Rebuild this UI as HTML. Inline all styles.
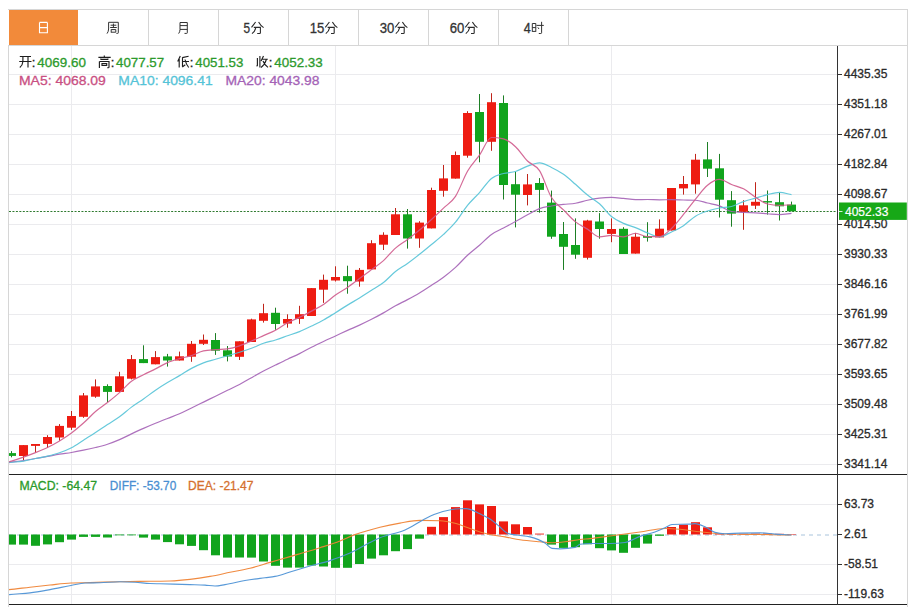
<!DOCTYPE html><html><head><meta charset="utf-8"><style>html,body{margin:0;padding:0;background:#fff;width:911px;height:607px;overflow:hidden}svg{position:absolute;left:0;top:0;display:block}text{font-family:"Liberation Sans",sans-serif}</style></head><body>
<svg width="911" height="607" viewBox="0 0 911 607">
<defs><clipPath id="cp"><rect x="9" y="46" width="828" height="428"/></clipPath><clipPath id="cm"><rect x="9" y="475" width="828" height="129"/></clipPath></defs>
<rect x="9" y="9" width="69" height="36" fill="#f28a3a"/>
<path d="M8,9.5H908M8,45.5H908" stroke="#d6d6d6" stroke-width="1" fill="none"/>
<path d="M148.5,10V45M218.5,10V45M288.5,10V45M358.5,10V45M428.5,10V45M498.5,10V45M568.5,10V45" stroke="#d6d6d6" stroke-width="1" fill="none"/>
<path d="M8.5,45V607M907.5,9V607" stroke="#d6d6d6" stroke-width="1" fill="none"/>
<path d="M9,74.5H837M9,104.5H837M9,134.5H837M9,164.5H837M9,194.5H837M9,224.5H837M9,254.5H837M9,284.5H837M9,314.5H837M9,344.5H837M9,374.5H837M9,404.5H837M9,434.5H837M9,464.5H837M9,504.5H837M9,564.5H837M9,594.5H837M71.5,46V604M335.5,46V604M611.5,46V604" stroke="#ebebee" stroke-width="1" fill="none"/>
<path d="M9,535H837" stroke="#a9c4dc" stroke-width="1" stroke-dasharray="4,4" fill="none"/>
<path d="M9,211.5H837" stroke="#2f7a2f" stroke-width="1" stroke-dasharray="2,1.45" fill="none"/>
<g clip-path="url(#cp)"><path d="M11.5,451.1V457.3" stroke="#1d7f25" stroke-width="1"/><rect x="7.0" y="453.1" width="9" height="2.8" fill="#11a41d"/><path d="M23.5,445.1V460.2" stroke="#c0241a" stroke-width="1"/><rect x="19.0" y="445.1" width="9" height="10.9" fill="#ee1c12"/><path d="M35.5,444.0V452.6" stroke="#c0241a" stroke-width="1"/><rect x="31.0" y="444.0" width="9" height="1.9" fill="#ee1c12"/><path d="M47.5,435.2V448.0" stroke="#c0241a" stroke-width="1"/><rect x="43.0" y="437.0" width="9" height="6.9" fill="#ee1c12"/><path d="M59.5,424.1V440.7" stroke="#c0241a" stroke-width="1"/><rect x="55.0" y="425.9" width="9" height="11.6" fill="#ee1c12"/><path d="M71.5,411.0V429.9" stroke="#c0241a" stroke-width="1"/><rect x="67.0" y="416.0" width="9" height="11.7" fill="#ee1c12"/><path d="M83.5,393.0V417.8" stroke="#c0241a" stroke-width="1"/><rect x="79.0" y="395.4" width="9" height="21.4" fill="#ee1c12"/><path d="M95.5,379.4V397.8" stroke="#c0241a" stroke-width="1"/><rect x="91.0" y="386.4" width="9" height="10.3" fill="#ee1c12"/><path d="M107.5,384.3V402.0" stroke="#1d7f25" stroke-width="1"/><rect x="103.0" y="386.0" width="9" height="5.9" fill="#11a41d"/><path d="M119.5,371.8V391.9" stroke="#c0241a" stroke-width="1"/><rect x="115.0" y="376.3" width="9" height="15.6" fill="#ee1c12"/><path d="M131.5,355.0V379.4" stroke="#c0241a" stroke-width="1"/><rect x="127.0" y="359.1" width="9" height="19.6" fill="#ee1c12"/><path d="M143.5,345.3V363.1" stroke="#1d7f25" stroke-width="1"/><rect x="139.0" y="359.1" width="9" height="4.0" fill="#11a41d"/><path d="M155.5,351.1V364.3" stroke="#c0241a" stroke-width="1"/><rect x="151.0" y="357.1" width="9" height="7.2" fill="#ee1c12"/><path d="M167.5,353.9V366.6" stroke="#1d7f25" stroke-width="1"/><rect x="163.0" y="356.4" width="9" height="4.1" fill="#11a41d"/><path d="M179.5,351.6V360.5" stroke="#c0241a" stroke-width="1"/><rect x="175.0" y="356.3" width="9" height="4.2" fill="#ee1c12"/><path d="M191.5,341.0V361.8" stroke="#c0241a" stroke-width="1"/><rect x="187.0" y="343.8" width="9" height="12.9" fill="#ee1c12"/><path d="M203.5,334.5V345.0" stroke="#c0241a" stroke-width="1"/><rect x="199.0" y="339.8" width="9" height="4.0" fill="#ee1c12"/><path d="M215.5,333.1V354.9" stroke="#1d7f25" stroke-width="1"/><rect x="211.0" y="340.0" width="9" height="10.7" fill="#11a41d"/><path d="M227.5,346.0V361.4" stroke="#1d7f25" stroke-width="1"/><rect x="223.0" y="350.3" width="9" height="6.2" fill="#11a41d"/><path d="M239.5,341.3V360.0" stroke="#c0241a" stroke-width="1"/><rect x="235.0" y="341.3" width="9" height="15.5" fill="#ee1c12"/><path d="M251.5,318.7V342.0" stroke="#c0241a" stroke-width="1"/><rect x="247.0" y="319.4" width="9" height="22.6" fill="#ee1c12"/><path d="M263.5,303.8V322.6" stroke="#c0241a" stroke-width="1"/><rect x="259.0" y="313.2" width="9" height="7.6" fill="#ee1c12"/><path d="M275.5,307.7V329.8" stroke="#1d7f25" stroke-width="1"/><rect x="271.0" y="312.8" width="9" height="11.2" fill="#11a41d"/><path d="M287.5,314.3V327.7" stroke="#c0241a" stroke-width="1"/><rect x="283.0" y="319.0" width="9" height="4.6" fill="#ee1c12"/><path d="M299.5,305.8V323.9" stroke="#c0241a" stroke-width="1"/><rect x="295.0" y="314.2" width="9" height="4.7" fill="#ee1c12"/><path d="M311.5,288.1V316.0" stroke="#c0241a" stroke-width="1"/><rect x="307.0" y="288.1" width="9" height="27.9" fill="#ee1c12"/><path d="M323.5,274.6V302.9" stroke="#c0241a" stroke-width="1"/><rect x="319.0" y="279.8" width="9" height="9.9" fill="#ee1c12"/><path d="M335.5,266.3V281.5" stroke="#c0241a" stroke-width="1"/><rect x="331.0" y="277.0" width="9" height="3.5" fill="#ee1c12"/><path d="M347.5,265.7V293.7" stroke="#1d7f25" stroke-width="1"/><rect x="343.0" y="276.1" width="9" height="5.1" fill="#11a41d"/><path d="M359.5,268.0V286.7" stroke="#c0241a" stroke-width="1"/><rect x="355.0" y="269.9" width="9" height="11.6" fill="#ee1c12"/><path d="M371.5,240.2V269.4" stroke="#c0241a" stroke-width="1"/><rect x="367.0" y="243.2" width="9" height="26.2" fill="#ee1c12"/><path d="M383.5,232.3V250.0" stroke="#c0241a" stroke-width="1"/><rect x="379.0" y="234.8" width="9" height="9.9" fill="#ee1c12"/><path d="M395.5,208.0V235.0" stroke="#c0241a" stroke-width="1"/><rect x="391.0" y="214.3" width="9" height="20.7" fill="#ee1c12"/><path d="M407.5,209.0V248.6" stroke="#1d7f25" stroke-width="1"/><rect x="403.0" y="214.3" width="9" height="24.2" fill="#11a41d"/><path d="M419.5,221.2V247.8" stroke="#c0241a" stroke-width="1"/><rect x="415.0" y="222.6" width="9" height="15.9" fill="#ee1c12"/><path d="M431.5,187.7V228.4" stroke="#c0241a" stroke-width="1"/><rect x="427.0" y="190.0" width="9" height="38.4" fill="#ee1c12"/><path d="M443.5,165.0V196.7" stroke="#c0241a" stroke-width="1"/><rect x="439.0" y="178.4" width="9" height="12.4" fill="#ee1c12"/><path d="M455.5,151.5V178.6" stroke="#c0241a" stroke-width="1"/><rect x="451.0" y="155.0" width="9" height="23.6" fill="#ee1c12"/><path d="M467.5,111.2V157.7" stroke="#c0241a" stroke-width="1"/><rect x="463.0" y="113.0" width="9" height="42.7" fill="#ee1c12"/><path d="M479.5,94.0V162.3" stroke="#1d7f25" stroke-width="1"/><rect x="475.0" y="112.0" width="9" height="29.8" fill="#11a41d"/><path d="M491.5,93.2V150.8" stroke="#c0241a" stroke-width="1"/><rect x="487.0" y="102.2" width="9" height="39.6" fill="#ee1c12"/><path d="M503.5,95.4V199.5" stroke="#1d7f25" stroke-width="1"/><rect x="499.0" y="103.0" width="9" height="82.0" fill="#11a41d"/><path d="M515.5,171.7V227.4" stroke="#1d7f25" stroke-width="1"/><rect x="511.0" y="184.2" width="9" height="10.5" fill="#11a41d"/><path d="M527.5,174.0V205.4" stroke="#c0241a" stroke-width="1"/><rect x="523.0" y="184.4" width="9" height="10.6" fill="#ee1c12"/><path d="M539.5,178.1V212.7" stroke="#1d7f25" stroke-width="1"/><rect x="535.0" y="183.0" width="9" height="6.9" fill="#11a41d"/><path d="M551.5,190.6V238.8" stroke="#1d7f25" stroke-width="1"/><rect x="547.0" y="202.6" width="9" height="34.1" fill="#11a41d"/><path d="M563.5,222.0V269.9" stroke="#1d7f25" stroke-width="1"/><rect x="559.0" y="234.0" width="9" height="12.8" fill="#11a41d"/><path d="M575.5,218.4V258.8" stroke="#1d7f25" stroke-width="1"/><rect x="571.0" y="245.0" width="9" height="9.7" fill="#11a41d"/><path d="M587.5,219.8V259.5" stroke="#c0241a" stroke-width="1"/><rect x="583.0" y="220.5" width="9" height="37.3" fill="#ee1c12"/><path d="M599.5,213.1V238.7" stroke="#1d7f25" stroke-width="1"/><rect x="595.0" y="221.5" width="9" height="7.5" fill="#11a41d"/><path d="M611.5,218.4V242.2" stroke="#c0241a" stroke-width="1"/><rect x="607.0" y="229.0" width="9" height="4.9" fill="#ee1c12"/><path d="M623.5,227.2V254.0" stroke="#1d7f25" stroke-width="1"/><rect x="619.0" y="228.8" width="9" height="25.2" fill="#11a41d"/><path d="M635.5,232.9V253.6" stroke="#c0241a" stroke-width="1"/><rect x="631.0" y="236.7" width="9" height="16.9" fill="#ee1c12"/><path d="M647.5,222.2V241.6" stroke="#1d7f25" stroke-width="1"/><rect x="643.0" y="236.0" width="9" height="1.8" fill="#11a41d"/><path d="M659.5,219.4V237.4" stroke="#c0241a" stroke-width="1"/><rect x="655.0" y="228.7" width="9" height="8.7" fill="#ee1c12"/><path d="M671.5,188.0V230.5" stroke="#c0241a" stroke-width="1"/><rect x="667.0" y="188.0" width="9" height="42.5" fill="#ee1c12"/><path d="M683.5,176.0V194.6" stroke="#c0241a" stroke-width="1"/><rect x="679.0" y="184.0" width="9" height="4.4" fill="#ee1c12"/><path d="M695.5,153.9V193.7" stroke="#c0241a" stroke-width="1"/><rect x="691.0" y="159.7" width="9" height="24.7" fill="#ee1c12"/><path d="M707.5,142.0V177.0" stroke="#1d7f25" stroke-width="1"/><rect x="703.0" y="159.4" width="9" height="9.3" fill="#11a41d"/><path d="M719.5,153.9V217.5" stroke="#1d7f25" stroke-width="1"/><rect x="715.0" y="168.3" width="9" height="31.4" fill="#11a41d"/><path d="M731.5,191.1V226.7" stroke="#1d7f25" stroke-width="1"/><rect x="727.0" y="200.2" width="9" height="13.4" fill="#11a41d"/><path d="M743.5,200.2V229.8" stroke="#c0241a" stroke-width="1"/><rect x="739.0" y="205.3" width="9" height="6.5" fill="#ee1c12"/><path d="M755.5,182.2V209.0" stroke="#c0241a" stroke-width="1"/><rect x="751.0" y="201.8" width="9" height="3.9" fill="#ee1c12"/><path d="M767.5,190.5V214.6" stroke="#1d7f25" stroke-width="1"/><rect x="763.0" y="201.1" width="9" height="1.4" fill="#11a41d"/><path d="M779.5,192.8V220.5" stroke="#1d7f25" stroke-width="1"/><rect x="775.0" y="202.2" width="9" height="4.1" fill="#11a41d"/><path d="M791.5,201.6V211.2" stroke="#1d7f25" stroke-width="1"/><rect x="787.0" y="204.6" width="9" height="6.6" fill="#11a41d"/></g>
<g clip-path="url(#cp)"><path d="M-0.50,463.80C3.50,463.27 7.50,462.73 11.50,462.20C15.50,461.67 19.50,461.22 23.50,460.60C27.50,459.98 31.50,459.20 35.50,458.50C39.50,457.80 43.50,457.12 47.50,456.40C51.50,455.68 55.50,454.85 59.50,454.20C63.50,453.55 67.50,453.17 71.50,452.50C75.50,451.83 79.50,451.03 83.50,450.20C87.50,449.37 91.50,448.50 95.50,447.50C99.50,446.50 103.50,445.52 107.50,444.20C111.50,442.88 115.50,441.32 119.50,439.60C123.50,437.88 127.50,435.77 131.50,433.90C135.50,432.03 139.50,430.17 143.50,428.40C147.50,426.63 151.50,424.95 155.50,423.30C159.50,421.65 163.50,420.08 167.50,418.50C171.50,416.92 175.50,415.55 179.50,413.80C183.50,412.05 187.50,409.95 191.50,408.00C195.50,406.05 199.50,404.07 203.50,402.10C207.50,400.13 211.50,398.17 215.50,396.20C219.50,394.23 223.50,392.25 227.50,390.30C231.50,388.35 235.50,386.60 239.50,384.50C243.50,382.40 247.50,379.92 251.50,377.68C255.50,375.44 259.50,373.18 263.50,371.08C267.50,368.99 271.50,367.07 275.50,365.08C279.50,363.10 283.50,361.10 287.50,359.18C291.50,357.27 295.50,355.60 299.50,353.60C303.50,351.60 307.50,349.23 311.50,347.20C315.50,345.18 319.50,343.30 323.50,341.42C327.50,339.55 331.50,337.79 335.50,335.95C339.50,334.12 343.50,332.23 347.50,330.42C351.50,328.61 355.50,326.95 359.50,325.10C363.50,323.25 367.50,321.34 371.50,319.31C375.50,317.27 379.50,315.15 383.50,312.89C387.50,310.63 391.50,307.96 395.50,305.75C399.50,303.54 403.50,301.78 407.50,299.65C411.50,297.52 415.50,295.36 419.50,292.96C423.50,290.57 427.50,287.90 431.50,285.27C435.50,282.65 439.50,280.18 443.50,277.20C447.50,274.23 451.50,271.08 455.50,267.42C459.50,263.76 463.50,258.94 467.50,255.24C471.50,251.55 475.50,248.74 479.50,245.27C483.50,241.80 487.50,237.29 491.50,234.41C495.50,231.53 499.50,230.15 503.50,228.00C507.50,225.85 511.50,223.73 515.50,221.53C519.50,219.34 523.50,216.96 527.50,214.81C531.50,212.65 535.50,210.05 539.50,208.59C543.50,207.13 547.50,206.72 551.50,206.02C555.50,205.32 559.50,204.83 563.50,204.37C567.50,203.91 571.50,203.95 575.50,203.25C579.50,202.56 583.50,201.07 587.50,200.22C591.50,199.37 595.50,198.63 599.50,198.18C603.50,197.72 607.50,197.47 611.50,197.47C615.50,197.47 619.50,198.08 623.50,198.43C627.50,198.77 631.50,199.55 635.50,199.55C639.50,199.55 643.50,199.51 647.50,199.51C651.50,199.51 655.50,199.82 659.50,199.82C663.50,199.82 667.50,199.72 671.50,199.72C675.50,199.72 679.50,199.91 683.50,200.00C687.50,200.08 691.50,200.07 695.50,200.23C699.50,200.39 703.50,202.07 707.50,203.02C711.50,203.96 715.50,204.50 719.50,205.91C723.50,207.32 727.50,210.80 731.50,211.48C735.50,212.16 739.50,212.27 743.50,212.49C747.50,212.72 751.50,212.64 755.50,212.85C759.50,213.06 763.50,213.47 767.50,213.76C771.50,214.04 775.50,214.58 779.50,214.58C783.50,214.58 787.50,213.73 791.50,213.30" fill="none" stroke="#a462b6" stroke-width="1.2" stroke-opacity="0.9"/><path d="M-0.50,463.00C3.50,462.73 7.50,462.52 11.50,462.20C15.50,461.88 19.50,461.72 23.50,461.10C27.50,460.48 31.50,459.33 35.50,458.50C39.50,457.67 43.50,457.05 47.50,456.10C51.50,455.15 55.50,454.18 59.50,452.80C63.50,451.42 67.50,449.90 71.50,447.80C75.50,445.70 79.50,442.75 83.50,440.20C87.50,437.65 91.50,435.12 95.50,432.50C99.50,429.88 103.50,427.12 107.50,424.50C111.50,421.88 115.50,419.68 119.50,416.78C123.50,413.88 127.50,410.09 131.50,407.11C135.50,404.13 139.50,401.72 143.50,398.91C147.50,396.09 151.50,392.94 155.50,390.22C159.50,387.50 163.50,385.00 167.50,382.57C171.50,380.13 175.50,377.97 179.50,375.61C183.50,373.25 187.50,370.52 191.50,368.39C195.50,366.26 199.50,364.35 203.50,362.83C207.50,361.31 211.50,360.44 215.50,359.26C219.50,358.07 223.50,356.89 227.50,355.72C231.50,354.55 235.50,353.47 239.50,352.22C243.50,350.98 247.50,349.74 251.50,348.25C255.50,346.76 259.50,344.64 263.50,343.26C267.50,341.88 271.50,341.19 275.50,339.95C279.50,338.71 283.50,337.19 287.50,335.80C291.50,334.41 295.50,333.22 299.50,331.59C303.50,329.96 307.50,327.95 311.50,326.02C315.50,324.09 319.50,322.25 323.50,320.02C327.50,317.79 331.50,315.13 335.50,312.65C339.50,310.17 343.50,307.56 347.50,305.12C351.50,302.67 355.50,300.44 359.50,297.98C363.50,295.52 367.50,292.94 371.50,290.36C375.50,287.78 379.50,285.65 383.50,282.52C387.50,279.38 391.50,274.72 395.50,271.55C399.50,268.38 403.50,266.37 407.50,263.50C411.50,260.63 415.50,257.50 419.50,254.34C423.50,251.18 427.50,247.86 431.50,244.53C435.50,241.21 439.50,238.11 443.50,234.39C447.50,230.67 451.50,227.03 455.50,222.19C459.50,217.35 463.50,210.31 467.50,205.37C471.50,200.43 475.50,197.04 479.50,192.56C483.50,188.08 487.50,181.64 491.50,178.46C495.50,175.28 499.50,174.64 503.50,173.48C507.50,172.32 511.50,172.75 515.50,171.52C519.50,170.29 523.50,167.56 527.50,166.11C531.50,164.66 535.50,162.84 539.50,162.84C543.50,162.84 547.50,165.59 551.50,167.51C555.50,169.43 559.50,171.55 563.50,174.35C567.50,177.15 571.50,180.87 575.50,184.32C579.50,187.77 583.50,191.83 587.50,195.07C591.50,198.32 595.50,200.22 599.50,203.79C603.50,207.36 607.50,213.21 611.50,216.47C615.50,219.73 619.50,221.52 623.50,223.37C627.50,225.22 631.50,225.98 635.50,227.57C639.50,229.16 643.50,231.37 647.50,232.91C651.50,234.45 655.50,236.79 659.50,236.79C663.50,236.79 667.50,233.78 671.50,231.92C675.50,230.06 679.50,228.27 683.50,225.64C687.50,223.01 691.50,218.59 695.50,216.14C699.50,213.69 703.50,212.31 707.50,210.96C711.50,209.61 715.50,208.78 719.50,208.03C723.50,207.29 727.50,207.52 731.50,206.49C735.50,205.46 739.50,203.01 743.50,201.62C747.50,200.23 751.50,199.30 755.50,198.13C759.50,196.96 763.50,195.56 767.50,194.60C771.50,193.64 775.50,192.36 779.50,192.36C783.50,192.36 787.50,193.91 791.50,194.68" fill="none" stroke="#55c3d7" stroke-width="1.2" stroke-opacity="0.9"/><path d="M-0.50,464.40C3.50,463.30 7.50,462.32 11.50,461.10C15.50,459.88 19.50,458.52 23.50,457.10C27.50,455.68 31.50,454.20 35.50,452.60C39.50,451.00 43.50,449.44 47.50,447.50C51.50,445.56 55.50,443.38 59.50,440.96C63.50,438.54 67.50,435.98 71.50,433.00C75.50,430.02 79.50,426.64 83.50,423.06C87.50,419.48 91.50,414.96 95.50,411.54C99.50,408.12 103.50,405.68 107.50,402.52C111.50,399.36 115.50,396.15 119.50,392.60C123.50,389.05 127.50,384.19 131.50,381.22C135.50,378.25 139.50,376.81 143.50,374.76C147.50,372.71 151.50,370.92 155.50,368.90C159.50,366.88 163.50,364.33 167.50,362.62C171.50,360.91 175.50,359.80 179.50,358.62C183.50,357.44 187.50,356.85 191.50,355.56C195.50,354.27 199.50,351.75 203.50,350.90C207.50,350.05 211.50,349.97 215.50,349.62C219.50,349.27 223.50,349.35 227.50,348.82C231.50,348.29 235.50,347.13 239.50,345.82C243.50,344.51 247.50,342.64 251.50,340.94C255.50,339.24 259.50,337.40 263.50,335.62C267.50,333.84 271.50,332.42 275.50,330.28C279.50,328.14 283.50,324.93 287.50,322.78C291.50,320.63 295.50,319.31 299.50,317.36C303.50,315.41 307.50,313.26 311.50,311.10C315.50,308.94 319.50,307.10 323.50,304.42C327.50,301.74 331.50,297.85 335.50,295.02C339.50,292.19 343.50,290.20 347.50,287.46C351.50,284.72 355.50,281.57 359.50,278.60C363.50,275.63 367.50,272.62 371.50,269.62C375.50,266.62 379.50,264.21 383.50,260.62C387.50,257.03 391.50,251.59 395.50,248.08C399.50,244.57 403.50,242.54 407.50,239.54C411.50,236.54 415.50,233.43 419.50,230.08C423.50,226.73 427.50,223.09 431.50,219.44C435.50,215.79 439.50,212.02 443.50,208.16C447.50,204.30 451.50,202.46 455.50,196.30C459.50,190.14 463.50,178.08 467.50,171.20C471.50,164.32 475.50,160.66 479.50,155.04C483.50,149.42 487.50,137.48 491.50,137.48C495.50,137.48 499.50,137.92 503.50,138.80C507.50,139.68 511.50,143.04 515.50,146.74C519.50,150.44 523.50,157.04 527.50,161.02C531.50,165.00 535.50,164.55 539.50,170.64C543.50,176.73 547.50,191.00 551.50,197.54C555.50,204.08 559.50,205.84 563.50,209.90C567.50,213.96 571.50,218.70 575.50,221.90C579.50,225.10 583.50,226.61 587.50,229.12C591.50,231.63 595.50,236.94 599.50,236.94C603.50,236.94 607.50,235.40 611.50,235.40C615.50,235.40 619.50,236.84 623.50,236.84C627.50,236.84 631.50,233.24 635.50,233.24C639.50,233.24 643.50,236.70 647.50,236.70C651.50,236.70 655.50,236.68 659.50,236.64C663.50,236.60 667.50,232.14 671.50,228.44C675.50,224.74 679.50,219.34 683.50,214.44C687.50,209.54 691.50,203.91 695.50,199.04C699.50,194.17 703.50,188.49 707.50,185.22C711.50,181.95 715.50,179.42 719.50,179.42C723.50,179.42 727.50,182.98 731.50,184.54C735.50,186.10 739.50,186.69 743.50,188.80C747.50,190.91 751.50,194.69 755.50,197.22C759.50,199.75 763.50,203.10 767.50,203.98C771.50,204.86 775.50,205.30 779.50,205.30C783.50,205.30 787.50,204.98 791.50,204.82" fill="none" stroke="#cf5a8c" stroke-width="1.2" stroke-opacity="0.9"/></g>
<g clip-path="url(#cm)"><rect x="7.0" y="534.5" width="9" height="10.1" fill="#11a41d"/><rect x="19.0" y="534.5" width="9" height="10.1" fill="#11a41d"/><rect x="31.0" y="534.5" width="9" height="11.3" fill="#11a41d"/><rect x="43.0" y="534.5" width="9" height="9.9" fill="#11a41d"/><rect x="55.0" y="534.5" width="9" height="7.7" fill="#11a41d"/><rect x="67.0" y="534.5" width="9" height="5.1" fill="#11a41d"/><rect x="79.0" y="534.5" width="9" height="2.4" fill="#11a41d"/><rect x="91.0" y="534.5" width="9" height="2.4" fill="#11a41d"/><rect x="103.0" y="534.5" width="9" height="3.0" fill="#11a41d"/><rect x="115.0" y="534.5" width="9" height="0.8" fill="#11a41d"/><rect x="127.0" y="534.5" width="9" height="0.8" fill="#11a41d"/><rect x="139.0" y="534.5" width="9" height="3.1" fill="#11a41d"/><rect x="151.0" y="534.5" width="9" height="5.1" fill="#11a41d"/><rect x="163.0" y="534.5" width="9" height="7.6" fill="#11a41d"/><rect x="175.0" y="534.5" width="9" height="9.8" fill="#11a41d"/><rect x="187.0" y="534.5" width="9" height="11.4" fill="#11a41d"/><rect x="199.0" y="534.5" width="9" height="15.7" fill="#11a41d"/><rect x="211.0" y="534.5" width="9" height="20.8" fill="#11a41d"/><rect x="223.0" y="534.5" width="9" height="23.1" fill="#11a41d"/><rect x="235.0" y="534.5" width="9" height="23.0" fill="#11a41d"/><rect x="247.0" y="534.5" width="9" height="23.1" fill="#11a41d"/><rect x="259.0" y="534.5" width="9" height="27.0" fill="#11a41d"/><rect x="271.0" y="534.5" width="9" height="31.3" fill="#11a41d"/><rect x="283.0" y="534.5" width="9" height="33.1" fill="#11a41d"/><rect x="295.0" y="534.5" width="9" height="33.1" fill="#11a41d"/><rect x="307.0" y="534.5" width="9" height="31.0" fill="#11a41d"/><rect x="319.0" y="534.5" width="9" height="32.0" fill="#11a41d"/><rect x="331.0" y="534.5" width="9" height="33.3" fill="#11a41d"/><rect x="343.0" y="534.5" width="9" height="33.3" fill="#11a41d"/><rect x="355.0" y="534.5" width="9" height="29.5" fill="#11a41d"/><rect x="367.0" y="534.5" width="9" height="24.1" fill="#11a41d"/><rect x="379.0" y="534.5" width="9" height="20.8" fill="#11a41d"/><rect x="391.0" y="534.5" width="9" height="16.7" fill="#11a41d"/><rect x="403.0" y="534.5" width="9" height="14.6" fill="#11a41d"/><rect x="415.0" y="534.5" width="9" height="4.2" fill="#11a41d"/><rect x="427.0" y="526.8" width="9" height="7.7" fill="#ee1c12"/><rect x="439.0" y="517.1" width="9" height="17.4" fill="#ee1c12"/><rect x="451.0" y="507.1" width="9" height="27.4" fill="#ee1c12"/><rect x="463.0" y="500.3" width="9" height="34.2" fill="#ee1c12"/><rect x="475.0" y="504.4" width="9" height="30.1" fill="#ee1c12"/><rect x="487.0" y="506.0" width="9" height="28.5" fill="#ee1c12"/><rect x="499.0" y="521.4" width="9" height="13.1" fill="#ee1c12"/><rect x="511.0" y="524.3" width="9" height="10.2" fill="#ee1c12"/><rect x="523.0" y="527.0" width="9" height="7.5" fill="#ee1c12"/><rect x="535.0" y="533.6" width="9" height="0.9" fill="#ee1c12"/><rect x="547.0" y="534.5" width="9" height="10.1" fill="#11a41d"/><rect x="559.0" y="534.5" width="9" height="13.4" fill="#11a41d"/><rect x="571.0" y="534.5" width="9" height="12.7" fill="#11a41d"/><rect x="583.0" y="534.5" width="9" height="9.8" fill="#11a41d"/><rect x="595.0" y="534.5" width="9" height="13.7" fill="#11a41d"/><rect x="607.0" y="534.5" width="9" height="15.9" fill="#11a41d"/><rect x="619.0" y="534.5" width="9" height="18.3" fill="#11a41d"/><rect x="631.0" y="534.5" width="9" height="13.3" fill="#11a41d"/><rect x="643.0" y="534.5" width="9" height="9.1" fill="#11a41d"/><rect x="655.0" y="534.5" width="9" height="1.3" fill="#11a41d"/><rect x="667.0" y="527.0" width="9" height="7.5" fill="#ee1c12"/><rect x="679.0" y="524.7" width="9" height="9.8" fill="#ee1c12"/><rect x="691.0" y="522.2" width="9" height="12.3" fill="#ee1c12"/><rect x="703.0" y="527.3" width="9" height="7.2" fill="#ee1c12"/><rect x="715.0" y="533.6" width="9" height="0.9" fill="#ee1c12"/><rect x="727.0" y="533.8" width="9" height="0.7" fill="#ee1c12"/><rect x="739.0" y="533.8" width="9" height="0.7" fill="#ee1c12"/><rect x="751.0" y="533.6" width="9" height="0.9" fill="#ee1c12"/><rect x="763.0" y="533.6" width="9" height="0.9" fill="#ee1c12"/><rect x="775.0" y="533.8" width="9" height="0.7" fill="#ee1c12"/><rect x="787.0" y="534.0" width="9" height="0.5" fill="#ee1c12"/></g>
<g clip-path="url(#cm)"><path d="M-1.00,590.50C2.33,590.20 5.67,589.93 9.00,589.60C16.00,588.92 23.00,587.98 30.00,587.20C36.67,586.45 43.33,585.69 50.00,585.00C57.00,584.28 64.00,583.29 71.00,583.00C77.33,582.73 83.67,582.76 90.00,582.60C100.00,582.35 110.00,581.92 120.00,581.70C130.00,581.48 140.00,581.44 150.00,581.30C156.67,581.20 163.33,581.20 170.00,581.00C176.67,580.80 183.33,580.17 190.00,579.40C196.67,578.63 203.33,577.58 210.00,576.40C216.67,575.22 223.33,573.67 230.00,572.30C236.67,570.93 243.33,569.85 250.00,568.20C256.67,566.55 263.33,564.33 270.00,562.40C276.67,560.47 283.33,558.53 290.00,556.60C293.33,555.63 296.67,554.68 300.00,553.70C306.67,551.74 313.33,549.82 320.00,547.70C326.67,545.58 333.33,543.58 340.00,541.00C345.00,539.06 350.00,536.43 355.00,534.60C360.00,532.77 365.00,531.42 370.00,530.00C373.33,529.05 376.67,528.13 380.00,527.30C386.67,525.63 393.33,524.27 400.00,523.10C406.67,521.93 413.33,520.30 420.00,520.30C426.67,520.30 433.33,520.43 440.00,520.70C445.00,520.90 450.00,522.00 455.00,523.30C460.00,524.60 465.00,526.76 470.00,528.50C473.33,529.66 476.67,531.00 480.00,532.00C483.33,533.00 486.67,533.79 490.00,534.50C495.00,535.57 500.00,536.02 505.00,536.90C510.00,537.78 515.00,539.03 520.00,539.80C526.67,540.82 533.33,541.24 540.00,541.80C544.00,542.14 548.00,542.70 552.00,542.70C556.33,542.70 560.67,542.27 565.00,541.80C570.00,541.26 575.00,540.08 580.00,539.50C583.33,539.12 586.67,538.94 590.00,538.60C596.67,537.91 603.33,536.88 610.00,536.00C620.00,534.69 630.00,533.37 640.00,532.00C648.33,530.86 656.67,528.50 665.00,528.50C670.00,528.50 675.00,528.88 680.00,529.30C686.67,529.86 693.33,531.07 700.00,531.80C706.67,532.53 713.33,533.43 720.00,533.70C733.33,534.23 746.67,534.26 760.00,534.50C770.50,534.69 781.00,534.83 791.50,535.00" fill="none" stroke="#ef8436" stroke-width="1.15" stroke-opacity="0.95"/><path d="M-1.00,596.00C2.33,595.53 5.67,595.00 9.00,594.60C16.00,593.75 23.00,593.77 30.00,592.90C36.67,592.07 43.33,590.80 50.00,589.60C57.00,588.34 64.00,586.80 71.00,585.50C75.67,584.64 80.33,583.19 85.00,583.00C90.00,582.80 95.00,582.86 100.00,582.70C106.67,582.48 113.33,581.70 120.00,581.70C125.00,581.70 130.00,581.90 135.00,582.20C140.00,582.50 145.00,583.24 150.00,583.50C153.33,583.68 156.67,583.70 160.00,583.80C170.00,584.09 180.00,584.29 190.00,584.60C195.00,584.76 200.00,584.77 205.00,585.10C208.33,585.32 211.67,586.00 215.00,586.00C218.33,586.00 221.67,585.14 225.00,584.60C231.67,583.52 238.33,581.65 245.00,580.50C251.67,579.35 258.33,578.59 265.00,577.70C268.33,577.26 271.67,577.08 275.00,576.40C276.67,576.06 278.33,575.64 280.00,575.20C283.33,574.31 286.67,573.03 290.00,572.00C293.33,570.97 296.67,570.00 300.00,569.00C303.33,568.00 306.67,566.97 310.00,566.00C316.67,564.07 323.33,562.75 330.00,560.60C336.67,558.45 343.33,556.12 350.00,553.10C356.67,550.08 363.33,545.77 370.00,542.50C373.33,540.87 376.67,539.22 380.00,537.80C388.33,534.25 396.67,533.67 405.00,529.90C411.00,527.19 417.00,523.11 423.00,520.00C426.67,518.10 430.33,516.02 434.00,514.50C440.00,512.01 446.00,510.38 452.00,509.50C454.67,509.11 457.33,508.95 460.00,508.80C462.00,508.69 464.00,508.60 466.00,508.60C470.67,508.60 475.33,511.66 480.00,513.80C483.33,515.33 486.67,516.80 490.00,519.00C493.33,521.20 496.67,524.22 500.00,527.00C502.33,528.95 504.67,531.96 507.00,533.00C510.00,534.33 513.00,534.43 516.00,535.00C520.67,535.88 525.33,535.64 530.00,536.90C535.00,538.25 540.00,539.86 545.00,543.10C547.33,544.61 549.67,548.17 552.00,548.40C554.67,548.67 557.33,548.80 560.00,548.80C565.00,548.80 570.00,548.33 575.00,547.40C576.67,547.09 578.33,544.57 580.00,544.30C583.33,543.77 586.67,543.50 590.00,543.50C596.67,543.50 603.33,543.50 610.00,543.50C615.00,543.50 620.00,543.17 625.00,542.50C630.00,541.83 635.00,538.15 640.00,536.40C645.00,534.65 650.00,533.88 655.00,532.00C658.33,530.75 661.67,529.19 665.00,527.70C667.33,526.66 669.67,524.60 672.00,524.50C678.00,524.23 684.00,524.37 690.00,524.10C691.67,524.03 693.33,523.60 695.00,523.60C698.33,523.60 701.67,525.33 705.00,526.80C708.33,528.27 711.67,531.53 715.00,532.40C718.33,533.27 721.67,533.70 725.00,533.70C730.00,533.70 735.00,533.25 740.00,533.10C746.67,532.90 753.33,532.80 760.00,532.80C765.00,532.80 770.00,533.74 775.00,534.10C780.50,534.49 786.00,534.70 791.50,535.00" fill="none" stroke="#4f93d6" stroke-width="1.15" stroke-opacity="0.95"/></g>
<path d="M9,474.5H907M9,604.5H907" stroke="#222" stroke-width="1" fill="none"/>
<path d="M837.5,46V605" stroke="#333333" stroke-width="1" fill="none"/>
<path d="M838,74.5H842M838,104.5H842M838,134.5H842M838,164.5H842M838,194.5H842M838,224.5H842M838,254.5H842M838,284.5H842M838,314.5H842M838,344.5H842M838,374.5H842M838,404.5H842M838,434.5H842M838,464.5H842M838,504.5H842M838,534.5H842M838,564.5H842M838,594.5H842" stroke="#333333" stroke-width="1" fill="none"/>
<text x="844" y="78.4" font-size="12" fill="#2a2a2a" stroke="#2a2a2a" stroke-width="0.3">4435.35</text><text x="844" y="108.4" font-size="12" fill="#2a2a2a" stroke="#2a2a2a" stroke-width="0.3">4351.18</text><text x="844" y="138.4" font-size="12" fill="#2a2a2a" stroke="#2a2a2a" stroke-width="0.3">4267.01</text><text x="844" y="168.4" font-size="12" fill="#2a2a2a" stroke="#2a2a2a" stroke-width="0.3">4182.84</text><text x="844" y="198.4" font-size="12" fill="#2a2a2a" stroke="#2a2a2a" stroke-width="0.3">4098.67</text><text x="844" y="228.4" font-size="12" fill="#2a2a2a" stroke="#2a2a2a" stroke-width="0.3">4014.50</text><text x="844" y="258.4" font-size="12" fill="#2a2a2a" stroke="#2a2a2a" stroke-width="0.3">3930.33</text><text x="844" y="288.4" font-size="12" fill="#2a2a2a" stroke="#2a2a2a" stroke-width="0.3">3846.16</text><text x="844" y="318.4" font-size="12" fill="#2a2a2a" stroke="#2a2a2a" stroke-width="0.3">3761.99</text><text x="844" y="348.4" font-size="12" fill="#2a2a2a" stroke="#2a2a2a" stroke-width="0.3">3677.82</text><text x="844" y="378.4" font-size="12" fill="#2a2a2a" stroke="#2a2a2a" stroke-width="0.3">3593.65</text><text x="844" y="408.4" font-size="12" fill="#2a2a2a" stroke="#2a2a2a" stroke-width="0.3">3509.48</text><text x="844" y="438.4" font-size="12" fill="#2a2a2a" stroke="#2a2a2a" stroke-width="0.3">3425.31</text><text x="844" y="468.4" font-size="12" fill="#2a2a2a" stroke="#2a2a2a" stroke-width="0.3">3341.14</text><text x="844" y="508.4" font-size="12" fill="#2a2a2a" stroke="#2a2a2a" stroke-width="0.3">63.73</text><text x="844" y="538.4" font-size="12" fill="#2a2a2a" stroke="#2a2a2a" stroke-width="0.3">2.61</text><text x="844" y="568.4" font-size="12" fill="#2a2a2a" stroke="#2a2a2a" stroke-width="0.3">-58.51</text><text x="844" y="598.4" font-size="12" fill="#2a2a2a" stroke="#2a2a2a" stroke-width="0.3">-119.63</text>
<rect x="839" y="202.5" width="67.8" height="17.4" fill="#17a817"/>
<path d="M839,211.5H842.5" stroke="#d8f0d8" stroke-width="1"/>
<text x="845" y="215.5" font-size="12" fill="#fff" stroke="#fff" stroke-width="0.2">4052.33</text>
<text x="37.3" y="66.7" font-size="13" fill="#2c9a2c" stroke="#2c9a2c" stroke-width="0.3" textLength="48.6" lengthAdjust="spacingAndGlyphs">4069.60</text>
<text x="116.0" y="66.7" font-size="13" fill="#2c9a2c" stroke="#2c9a2c" stroke-width="0.3" textLength="48.2" lengthAdjust="spacingAndGlyphs">4077.57</text>
<text x="195.3" y="66.7" font-size="13" fill="#2c9a2c" stroke="#2c9a2c" stroke-width="0.3" textLength="48" lengthAdjust="spacingAndGlyphs">4051.53</text>
<text x="274.3" y="66.7" font-size="13" fill="#2c9a2c" stroke="#2c9a2c" stroke-width="0.3" textLength="48.5" lengthAdjust="spacingAndGlyphs">4052.33</text>
<text x="33.5" y="66.7" font-size="13" fill="#222" stroke="#222" stroke-width="0.3" text-anchor="middle">:</text>
<text x="112.6" y="66.7" font-size="13" fill="#222" stroke="#222" stroke-width="0.3" text-anchor="middle">:</text>
<text x="191.6" y="66.7" font-size="13" fill="#222" stroke="#222" stroke-width="0.3" text-anchor="middle">:</text>
<text x="270.6" y="66.7" font-size="13" fill="#222" stroke="#222" stroke-width="0.3" text-anchor="middle">:</text>
<text x="19" y="84.7" font-size="13.6" fill="#c94f82" stroke="#c94f82" stroke-width="0.3" textLength="86.8" lengthAdjust="spacingAndGlyphs">MA5: 4068.09</text>
<text x="118.3" y="84.7" font-size="13.6" fill="#55c3d7" stroke="#55c3d7" stroke-width="0.3" textLength="94.4" lengthAdjust="spacingAndGlyphs">MA10: 4096.41</text>
<text x="225.5" y="84.7" font-size="13.6" fill="#a462b6" stroke="#a462b6" stroke-width="0.3" textLength="94" lengthAdjust="spacingAndGlyphs">MA20: 4043.98</text>
<text x="19.5" y="489.5" font-size="12" fill="#2a9a2a" stroke="#2a9a2a" stroke-width="0.3" textLength="77.5" lengthAdjust="spacingAndGlyphs">MACD: -64.47</text>
<text x="109.8" y="489.5" font-size="12" fill="#4a8fd2" stroke="#4a8fd2" stroke-width="0.3" textLength="66.5" lengthAdjust="spacingAndGlyphs">DIFF: -53.70</text>
<text x="188" y="489.5" font-size="12" fill="#d5702e" stroke="#d5702e" stroke-width="0.3" textLength="65.5" lengthAdjust="spacingAndGlyphs">DEA: -21.47</text>
<path d="M39.5,22.4V33.3M47.4,22.4V33.3M39.5,22.4H47.4M39.5,27.6H47.4M39.5,32.7H47.4" fill="none" stroke="#fff" stroke-width="1.1" stroke-linecap="butt"/>
<path d="M108.6,22.3V29Q108.4,32 107,33.6M108.6,22.3H118.3V32.8Q118.3,33.4 117.6,33.4H116.4M110.6,25.2H116.3M113.4,23.6V27.5M110.2,27.5H116.8M111.2,29.4V32.6M111.2,29.6H115.8V32.2M111.2,32.2H115.8" fill="none" stroke="#333" stroke-width="1.0" stroke-linecap="butt"/>
<path d="M180,22.5V29.5Q180,32 178.6,33.6M180,22.5H187.3V32.8Q187.3,33.4 186.6,33.4H184.5M180,25.6H187.3M180,29.4H187.3" fill="none" stroke="#333" stroke-width="1.0" stroke-linecap="butt"/>
<path d="M255.6,22L251.5,27.4M258.6,22Q260.5,25.5 263.6,27.6M253.8,27.4H260.4V32.8Q260.4,33.5 259.6,33.5H257.2M255.8,27.6Q255.3,31 252.0,33.6" fill="none" stroke="#2b2b2b" stroke-width="1.1" stroke-linecap="butt"/>
<text x="250.2" y="33" font-size="14" fill="#333" stroke="#333" stroke-width="0.3" textLength="6.6" lengthAdjust="spacingAndGlyphs" text-anchor="end">5</text>
<path d="M329.4,22L325.3,27.4M332.4,22Q334.3,25.5 337.4,27.6M327.6,27.4H334.2V32.8Q334.2,33.5 333.4,33.5H331.0M329.6,27.6Q329.1,31 325.8,33.6" fill="none" stroke="#2b2b2b" stroke-width="1.1" stroke-linecap="butt"/>
<text x="324.4" y="33" font-size="14" fill="#333" stroke="#333" stroke-width="0.3" textLength="14.6" lengthAdjust="spacingAndGlyphs" text-anchor="end">15</text>
<path d="M399.4,22L395.3,27.4M402.4,22Q404.3,25.5 407.4,27.6M397.6,27.4H404.2V32.8Q404.2,33.5 403.4,33.5H401.0M399.6,27.6Q399.1,31 395.8,33.6" fill="none" stroke="#2b2b2b" stroke-width="1.1" stroke-linecap="butt"/>
<text x="394.4" y="33" font-size="14" fill="#333" stroke="#333" stroke-width="0.3" textLength="14.6" lengthAdjust="spacingAndGlyphs" text-anchor="end">30</text>
<path d="M469.4,22L465.3,27.4M472.4,22Q474.3,25.5 477.4,27.6M467.6,27.4H474.2V32.8Q474.2,33.5 473.4,33.5H471.0M469.6,27.6Q469.1,31 465.8,33.6" fill="none" stroke="#2b2b2b" stroke-width="1.1" stroke-linecap="butt"/>
<text x="464.4" y="33" font-size="14" fill="#333" stroke="#333" stroke-width="0.3" textLength="14.6" lengthAdjust="spacingAndGlyphs" text-anchor="end">60</text>
<text x="530.8" y="33" font-size="14" fill="#333" stroke="#333" stroke-width="0.3" textLength="7.0" lengthAdjust="spacingAndGlyphs" text-anchor="end">4</text>
<path d="M532.3,23.5V31.8M535.8,23.5V31.8M532.3,23.5H535.8M532.3,27.6H535.8M532.3,31.4H535.8M536.5,25.4H543.8M541.6,21.8V32.8Q541.6,33.5 540.8,33.5H538.8M537.9,27.4L539,29" fill="none" stroke="#333" stroke-width="1.0" stroke-linecap="butt"/>
<path d="M19.8,56.5H31M19.2,61.5H31.5M22.9,56.5V61.5Q22.6,65.5 19.8,67.5M28,56.5V67.6" fill="none" stroke="#1e1e1e" stroke-width="1.15" stroke-linecap="butt"/>
<path d="M104.3,55.4V57.4M98.4,57.4H110.7M100.8,58.4V59.6M107.9,58.4V59.6M100.5,59.3H108.3M99.4,61.5V68M99.4,61.5H109V67Q109,67.7 108.3,67.7H107.2M102,63.5H106.7V65.3H102Z" fill="none" stroke="#1e1e1e" stroke-width="1.15" stroke-linecap="butt"/>
<path d="M180.3,56L177.7,61.5M179.2,59V67.5M188.6,56.3L182.3,57.6M182.5,57.6V66.8M182.5,61.5H189M185,59.5Q186,64 188.7,67.5M182.3,67L185.3,64.7" fill="none" stroke="#1e1e1e" stroke-width="1.15" stroke-linecap="butt"/>
<path d="M257.4,58V65.5L256.6,66.2M259.9,56V67.6M263.5,56L261.1,61M262.5,59.2H267.8M266.3,59.6Q265,64.5 261,67.5M263,61Q264.5,65 268,67.4" fill="none" stroke="#1e1e1e" stroke-width="1.15" stroke-linecap="butt"/>
</svg></body></html>
